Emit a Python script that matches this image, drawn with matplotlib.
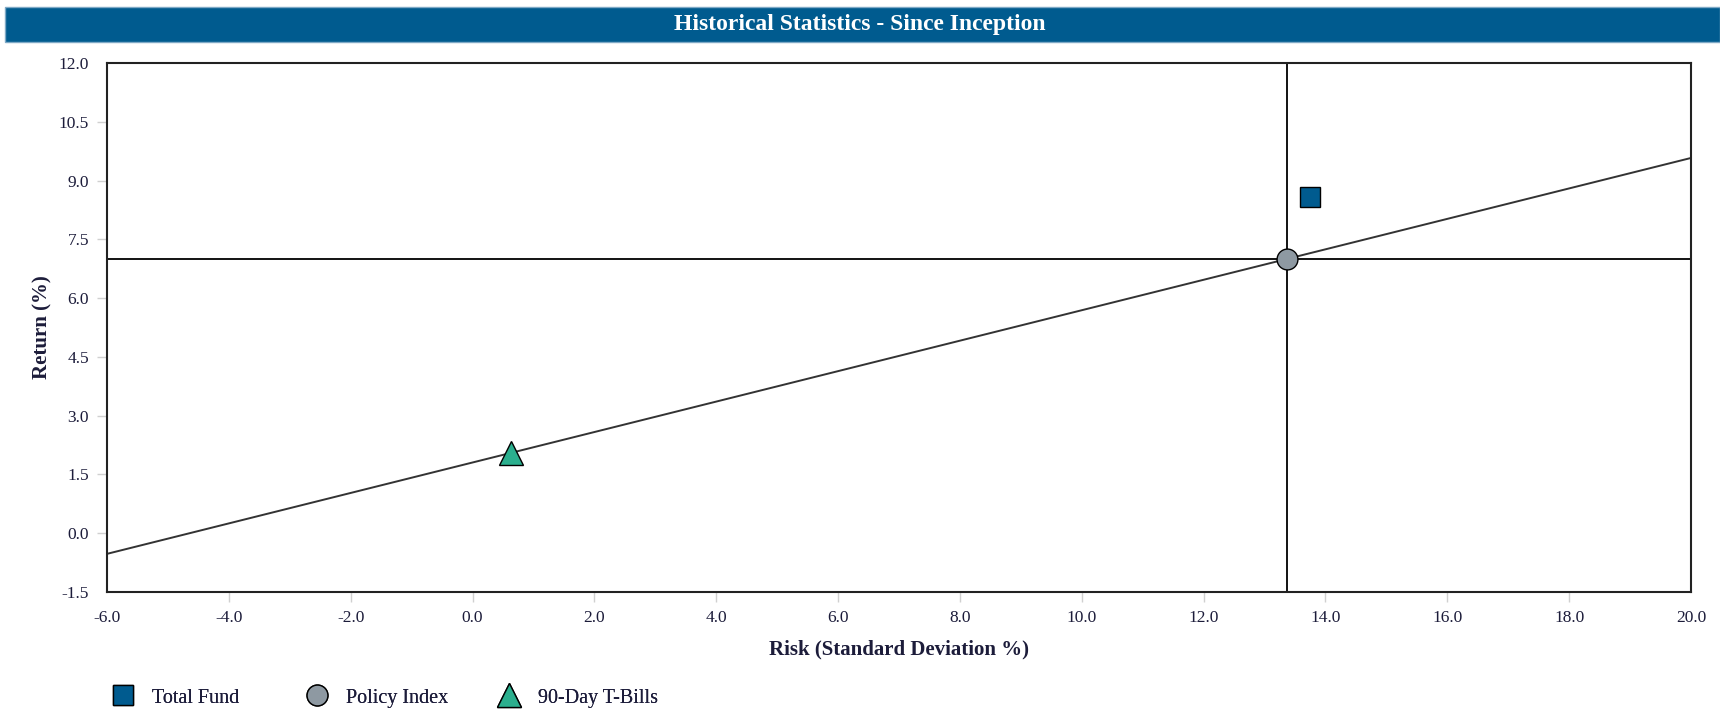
import matplotlib.pyplot as plt
from matplotlib.patches import Rectangle
from matplotlib.lines import Line2D

# risk / return since inception
names = ["Total Fund", "Policy Index", "90-Day T-Bills"]
risk = [13.74, 13.37, 0.63]
ret = [8.59, 7.00, 2.05]
colors = ["#005B8F", "#8E99A2", "#2BAF8E"]
shapes = ["s", "o", "^"]
sizes = [15, 15, 17]

x_ticks = [-6.0, -4.0, -2.0, 0.0, 2.0, 4.0, 6.0, 8.0, 10.0, 12.0, 14.0, 16.0, 18.0, 20.0]
y_ticks = [-1.5, 0.0, 1.5, 3.0, 4.5, 6.0, 7.5, 9.0, 10.5, 12.0]

plt.rcParams['font.family'] = ['Liberation Serif', 'DejaVu Serif']

fig = plt.figure(figsize=(17.2, 7.15), dpi=100)
ax = fig.add_axes([0.0622, 0.172, 0.9209, 0.7399])

# header band
fig.patches.append(Rectangle((0.003, 0.9413), 0.997, 0.0489, transform=fig.transFigure,
                             facecolor="#005B8F", edgecolor="#7FA9C6", linewidth=1))
fig.text(0.5, 0.9655, "Historical Statistics - Since Inception", color="white",
         fontsize=17, fontweight="bold", ha="center", va="center")

# capital market line through T-Bills and the policy index
slope = (ret[1] - ret[2]) / (risk[1] - risk[2])
x0, x1 = x_ticks[0], x_ticks[-1]
ax.plot([x0, x1], [ret[2] + slope * (x0 - risk[2]), ret[2] + slope * (x1 - risk[2])],
        color="#333333", linewidth=1.4, zorder=2)

# crosshair on the policy index
ax.axvline(risk[1], color="black", linewidth=1.3, zorder=2)
ax.axhline(ret[1], color="black", linewidth=1.3, zorder=2)

for i in range(len(names)):
    ax.plot(risk[i], ret[i], marker=shapes[i], markersize=sizes[i], color=colors[i],
            markeredgecolor="black", markeredgewidth=1.0, linestyle="none", zorder=4)

ax.set_xlim(x0, x1)
ax.set_ylim(y_ticks[0], y_ticks[-1])
ax.set_xticks(x_ticks)
ax.set_yticks(y_ticks)
ax.set_xticklabels([f"{v:.1f}" for v in x_ticks])
ax.set_yticklabels([f"{v:.1f}" for v in y_ticks])
ax.tick_params(axis="both", length=7, width=1, color="#D0D0D0", labelsize=12.5,
               labelcolor="#1C1C3A", pad=6)
# no tick marks at the frame corners
for axis in (ax.xaxis, ax.yaxis):
    ticks = axis.get_major_ticks()
    for t in (ticks[0], ticks[-1]):
        t.tick1line.set_visible(False)
for s in ax.spines.values():
    s.set_linewidth(1.5)
    s.set_color("#222222")

ax.set_xlabel("Risk (Standard Deviation %)", fontsize=15, fontweight="bold",
              color="#1C1C3A", labelpad=10)
ax.set_ylabel("Return (%)", fontsize=15, fontweight="bold", color="#1C1C3A", labelpad=4.5)

# legend entries, one per series, spread along the bottom
legend_x = [108, 302, 494]
for i in range(len(names)):
    h = Line2D([], [], marker=shapes[i], markersize=sizes[i], color=colors[i],
               markeredgecolor="black", markeredgewidth=1.0, linestyle="none")
    leg = fig.legend([h], [names[i]], loc="center left",
                     bbox_to_anchor=(legend_x[i] / 1720, 0.0238), frameon=False,
                     fontsize=14.5, handlelength=1.5, handletextpad=0.7,
                     borderpad=0, borderaxespad=0, labelcolor="#1C1C3A")
    fig.add_artist(leg)

fig.savefig("out.png", dpi=100)
